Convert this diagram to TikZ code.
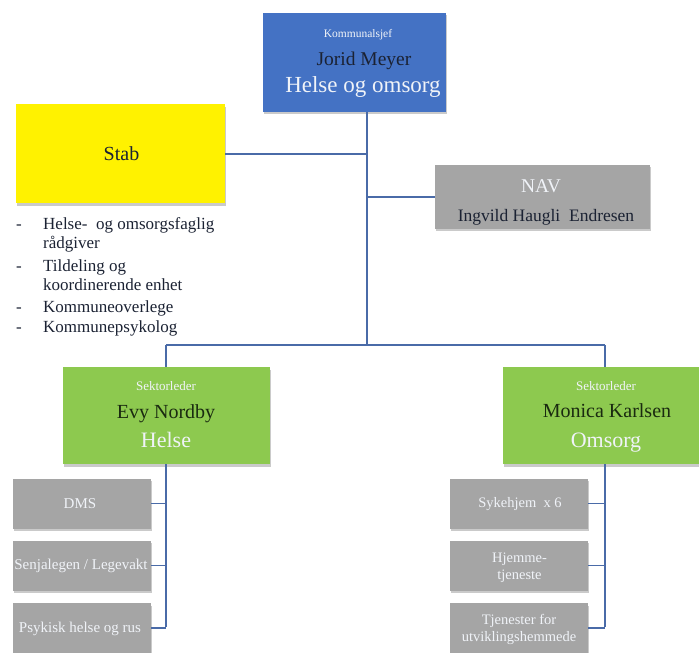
\documentclass[tikz,border=0pt]{standalone}
\usepackage{fontspec}
\setmainfont{Liberation Serif}
\usetikzlibrary{shadows}
\definecolor{bluebox}{HTML}{4472C4}
\definecolor{greenbox}{HTML}{8DC94F}
\definecolor{greybox}{HTML}{A5A5A5}
\definecolor{linec}{HTML}{4A6BA8}
\definecolor{darktxt}{HTML}{1B2233}
\definecolor{greendark}{HTML}{1A2A10}
\definecolor{lighttxt}{HTML}{F0F3F8}
\tikzset{
  basebox/.style={draw=none, inner sep=0pt,
    drop shadow={shadow xshift=1pt, shadow yshift=-2.5pt, opacity=0.35, fill=black!60}},
  bluenode/.style={basebox, fill=bluebox},
  yellownode/.style={basebox, fill=yellow},
  greynode/.style={basebox, fill=greybox},
  greennode/.style={basebox, fill=greenbox},
  subnode/.style={greynode, minimum width=138pt, minimum height=50pt},
  txt/.style={inner sep=0pt, anchor=base, align=center},
  subtxt/.style={txt, text=lighttxt, font=\fontsize{15}{17}\selectfont},
  listtxt/.style={inner sep=0pt, anchor=base west, align=left, text=darktxt, font=\fontsize{17}{19}\selectfont},
  conn/.style={draw=linec, line width=1.4pt},
}
\begin{document}
\begin{tikzpicture}[x=1pt,y=-1pt]
\useasboundingbox (0,0) rectangle (699,653);
\coordinate (jStab) at (367,154);
\coordinate (jNav) at (367,197);
\coordinate (jMid) at (367,345);
\coordinate (jL) at (166,345);
\coordinate (jR) at (605,345);
\coordinate (lEnd) at (166,627);
\coordinate (rEnd) at (605,627);

% boxes
\node[bluenode, minimum width=183pt, minimum height=99pt] (ks) at (354.5,62) {};
\node[yellownode, minimum width=209pt, minimum height=99pt] (stab) at (120.5,153.5) {};
\node[greynode, minimum width=215pt, minimum height=64pt] (nav) at (542.5,196.5) {};
\node[greennode, minimum width=207pt, minimum height=97pt] (evy) at (166.5,415.5) {};
\node[greennode, minimum width=196pt, minimum height=97pt] (mon) at (601,415.5) {};
\node[subnode] (dms) at (82,503.5) {};
\node[subnode] (sen) at (82,565.5) {};
\node[subnode] (psy) at (82,628) {};
\node[subnode] (syk) at (519,503.5) {};
\node[subnode] (hje) at (519,565.5) {};
\node[subnode] (tje) at (519,628) {};

% texts
\node[txt, text=lighttxt, font=\fontsize{11.5}{13}\selectfont] (ks1) at (358,37) {Kommunalsjef};
\node[txt, text=darktxt, font=\fontsize{19.5}{22}\selectfont] (ks2) at (364,65) {Jorid Meyer};
\node[txt, text=lighttxt, font=\fontsize{23}{26}\selectfont] (ks3) at (363,92) {Helse og omsorg};

\node[txt, text=darktxt, font=\fontsize{20}{22}\selectfont] (stabt) at (121.5,160) {Stab};

\node[txt, text=lighttxt, font=\fontsize{19.5}{22}\selectfont] (nav1) at (541,192) {NAV};
\node[txt, text=darktxt, font=\fontsize{17.5}{20}\selectfont] (nav2) at (546,221) {Ingvild Haugli\ \ Endresen};

\node[txt, text=lighttxt, font=\fontsize{13}{15}\selectfont] (evy1) at (166,390) {Sektorleder};
\node[txt, text=greendark, font=\fontsize{20}{22}\selectfont] (evy2) at (166,418) {Evy Nordby};
\node[txt, text=lighttxt, font=\fontsize{22}{24}\selectfont] (evy3) at (166,447) {Helse};

\node[txt, text=lighttxt, font=\fontsize{13}{15}\selectfont] (mon1) at (606,390) {Sektorleder};
\node[txt, text=greendark, font=\fontsize{20}{22}\selectfont] (mon2) at (607,417) {Monica Karlsen};
\node[txt, text=lighttxt, font=\fontsize{22}{24}\selectfont] (mon3) at (606,447) {Omsorg};

\node[subtxt] (dmst) at (80,508) {DMS};
\node[subtxt] (sent) at (81,569) {Senjalegen / Legevakt};
\node[subtxt] (psyt) at (80,632) {Psykisk helse og rus};
\node[subtxt, font=\fontsize{14.5}{17}\selectfont] (sykt) at (520,507) {Sykehjem\ \ x 6};
\node[subtxt, font=\fontsize{14.5}{17}\selectfont] (hjet) at (519.5,579) {Hjemme-\\tjeneste};
\node[subtxt, font=\fontsize{14.5}{17}\selectfont] (tjet) at (519,641) {Tjenester for\\utviklingshemmede};

% stab list
\node[listtxt] (d1) at (16,229) {-};
\node[listtxt] (l1) at (43,248) {Helse-\ \ og omsorgsfaglig\\rådgiver};
\node[listtxt] (d2) at (16,271) {-};
\node[listtxt] (l2) at (43,290) {Tildeling og\\koordinerende enhet};
\node[listtxt] (d3) at (16,312) {-};
\node[listtxt] (l3) at (43,312) {Kommuneoverlege};
\node[listtxt] (d4) at (16,332) {-};
\node[listtxt] (l4) at (43,332) {Kommunepsykolog};

% connectors
\draw[conn] (ks.south -| jMid) -- (jMid);
\draw[conn] (jStab) -- (stab.east |- jStab);
\draw[conn] (jNav) -- (nav.west |- jNav);
\draw[conn] (jL) -- (jR);
\draw[conn] (jL) -- (evy.north -| jL);
\draw[conn] (jR) -- (mon.north -| jR);
\draw[conn] (evy.south -| jL) -- (lEnd);
\draw[conn] (mon.south -| jR) -- (rEnd);
\draw[conn] (dms.east) -- (dms.east -| jL);
\draw[conn] (sen.east) -- (sen.east -| jL);
\draw[conn] (psy.east) -- (psy.east -| jL);
\draw[conn] (syk.east) -- (syk.east -| jR);
\draw[conn] (hje.east) -- (hje.east -| jR);
\draw[conn] (tje.east) -- (tje.east -| jR);
\end{tikzpicture}
\end{document}
